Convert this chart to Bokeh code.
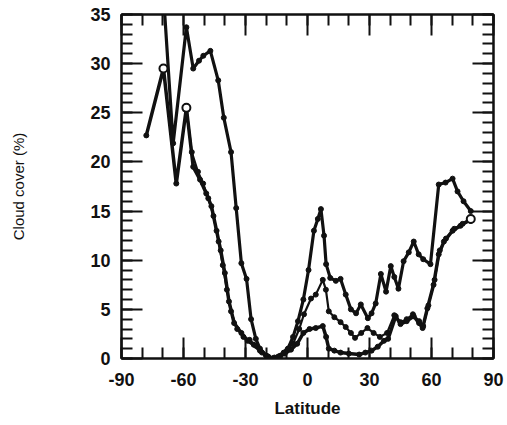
from bokeh.plotting import figure
from bokeh.models import Range1d, LinearAxis, SingleIntervalTicker, CustomJSTickFormatter
from bokeh.embed import file_html
from bokeh.resources import INLINE

# Zonal cloud cover (%) against latitude, three curves
lat_upper = [-70, -65, -58.6, -55.3, -52.5, -50.4, -47, -43.2, -40.5, -37,
             -34.5, -32, -29.5, -27.3, -25, -23, -20, -17, -14, -11.5,
             -9.5, -7, -4.6, -2, 0.5, 3.1, 5, 6.5, 8, 9,
             11, 13.7, 16, 18.5, 21, 23.5, 25.8, 29.2, 31, 33,
             35.5, 38, 40.3, 42, 44, 46.5, 49, 51.4, 53.8, 56,
             59.5, 63.5, 66.8, 70.2, 72.6, 75.5, 79]
cover_upper = [38, 21.9, 33.7, 29.5, 30.3, 30.8, 31.3, 28.3, 24.5, 21.0,
               15.3, 9.7, 8.1, 4.0, 2.0, 1.0, 0.3, 0.0, 0.2, 0.6,
               1.0, 2.2, 3.8, 6.0, 9.0, 13.0, 14.2, 15.2, 12.5, 9.6,
               8.2, 7.9, 8.1, 6.5, 5.0, 4.6, 5.5, 4.1, 4.6, 5.6,
               8.6, 6.8, 9.4, 8.3, 7.1, 9.9, 10.8, 11.9, 10.6, 10.1,
               9.6, 17.7, 17.9, 18.3, 17.0, 16.0, 15.0]

lat_middle = [-58.6, -56, -53, -50.5, -48, -45.5, -43, -41, -39, -37,
              -34, -31, -28, -25, -22, -19, -16, -13, -10, -7,
              -4, -1.7, 1.7, 4, 7.4, 8.9, 10.3, 13, 16, 18.5,
              21, 23, 26, 29, 32, 35, 38.5, 42, 45, 48,
              51, 54, 56, 58.5, 61.5, 64, 67, 71, 75, 79]
cover_middle = [25.5, 21.0, 19.0, 17.8, 16.3, 14.5, 11.9, 9.5, 7.0, 4.8,
                3.0, 2.2, 1.9, 1.3, 0.6, 0.2, 0.1, 0.3, 0.8, 1.5,
                3.0, 4.5, 6.1, 6.5, 8.0, 7.0, 4.8, 4.2, 3.7, 3.2,
                2.6, 2.1, 2.6, 3.1, 2.6, 2.2, 2.6, 4.4, 3.7, 4.0,
                4.5, 3.8, 3.3, 5.4, 8.0, 11.0, 12.2, 13.2, 13.7, 14.0]

lat_lower = [-78, -69.7, -63.5, -58.6, -55.3, -52, -49, -46.5, -44, -42,
             -40, -38, -35.5, -32, -29, -26, -23, -20, -17, -14,
             -11, -8, -5, -2, 1, 4, 7.4, 9, 10.3, 13,
             16, 20, 25, 28, 31, 34, 37, 39, 42.7, 45,
             48, 51.4, 54, 55.7, 58, 61, 63.5, 66, 70.2, 74,
             79]
cover_lower = [22.7, 29.5, 17.8, 25.5, 19.5, 18.2, 16.8, 15.5, 13.0, 11.0,
               8.7, 5.8, 3.6, 2.6, 1.8, 1.4, 0.8, 0.3, 0.0, 0.2,
               0.5, 0.9, 1.5, 2.6, 3.0, 3.1, 3.3, 2.2, 1.0, 0.8,
               0.6, 0.5, 0.4, 0.6, 0.8, 1.2, 1.8, 2.0, 4.3, 3.5,
               3.8, 4.3, 3.6, 3.1, 5.1, 7.5, 10.6, 11.9, 13.0, 13.5,
               14.2]

# points drawn as open circles
lat_open = [-69.7, -58.6, 79]
cover_open = [29.5, 25.5, 14.2]

FONT = "Liberation Sans"
INK = "#111111"

p = figure(width=507, height=425,
           x_range=Range1d(-90, 90), y_range=Range1d(0, 35),
           output_backend="svg", toolbar_location=None,
           min_border_left=121, min_border_right=14,
           min_border_top=14, min_border_bottom=67)

p.xgrid.visible = False
p.ygrid.visible = False
p.outline_line_color = INK
p.outline_line_width = 2
p.background_fill_color = "white"
p.border_fill_color = "white"

for lats, covs, w in [(lat_lower, cover_lower, 3.5),
                      (lat_middle, cover_middle, 2.2),
                      (lat_upper, cover_upper, 3.2)]:
    p.line(lats, covs, line_color=INK, line_width=w, line_join="round")
    p.scatter(lats, covs, marker="circle", size=5, fill_color=INK, line_color=INK)

p.scatter(lat_open, cover_open, marker="circle", size=8,
          fill_color="white", line_color=INK, line_width=2)


def style_axis(ax, ticker):
    ax.ticker = ticker
    ax.axis_line_color = INK
    ax.axis_line_width = 2
    ax.major_tick_line_color = INK
    ax.major_tick_line_width = 2
    ax.minor_tick_line_color = INK
    ax.minor_tick_line_width = 2
    ax.major_tick_in = 21
    ax.major_tick_out = 0
    ax.minor_tick_in = 11
    ax.minor_tick_out = 0


# plain hyphen for negative tick values
plain = CustomJSTickFormatter(code="return tick.toString()")

style_axis(p.xaxis[0], SingleIntervalTicker(interval=30, num_minor_ticks=3))
style_axis(p.yaxis[0], SingleIntervalTicker(interval=5, num_minor_ticks=5))

for ax in (p.xaxis[0], p.yaxis[0]):
    ax.formatter = plain
    ax.major_label_text_font = FONT
    ax.major_label_text_font_size = "18px"
    ax.major_label_text_font_style = "bold"
    ax.major_label_text_color = INK
    ax.axis_label_text_font = FONT
    ax.axis_label_text_font_style = "normal"
    ax.axis_label_text_color = INK

p.xaxis[0].major_label_standoff = 14
p.xaxis[0].axis_label = "Latitude"
p.xaxis[0].axis_label_text_font_size = "17px"
p.xaxis[0].axis_label_text_font_style = "bold"
p.xaxis[0].axis_label_standoff = 10

p.yaxis[0].major_label_standoff = 11
p.yaxis[0].axis_label = "Cloud cover (%)"
p.yaxis[0].axis_label_text_font_size = "15px"
p.yaxis[0].axis_label_standoff = 60

blank = CustomJSTickFormatter(code="return ''")
top = LinearAxis(formatter=blank)
right = LinearAxis(formatter=blank)
style_axis(top, SingleIntervalTicker(interval=30, num_minor_ticks=3))
style_axis(right, SingleIntervalTicker(interval=5, num_minor_ticks=5))
top.major_label_standoff = 0
right.major_label_standoff = 0
p.add_layout(top, "above")
p.add_layout(right, "right")

open("out.html", "w").write(file_html(p, INLINE))
